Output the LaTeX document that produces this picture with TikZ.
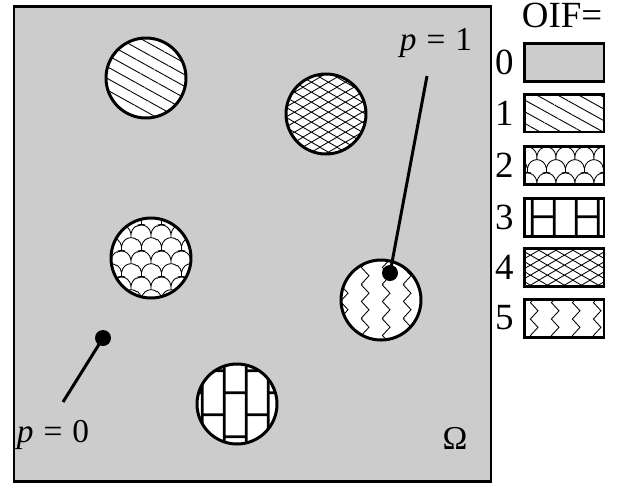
\documentclass[tikz,border=0pt]{standalone}
\usepackage{fontspec}
\setmainfont{Liberation Serif}
\usetikzlibrary{patterns,patterns.meta}

\definecolor{omega}{gray}{0.8}

% fish scales
\tikzdeclarepattern{
  name=scales, type=uncolored,
  bottom left={(0pt,0pt)}, top right={(11.05pt,14.82pt)},
  tile size={(11.05pt,14.82pt)},
  code={
    \begin{scope}[scale=1.3]
    \draw[line width=0.5pt] (-6.5pt,2pt) .. controls (-5.65pt,7.33pt) and (1.15pt,7.33pt) .. (2pt,2pt)
      .. controls (2.85pt,7.33pt) and (9.65pt,7.33pt) .. (10.5pt,2pt);
    \draw[line width=0.5pt] (2pt,2pt) -- (2pt,0.3pt);
    \draw[line width=0.5pt] (-2.25pt,7.7pt) .. controls (-1.4pt,13.03pt) and (5.4pt,13.03pt) .. (6.25pt,7.7pt)
      .. controls (7.1pt,13.03pt) and (13.9pt,13.03pt) .. (14.75pt,7.7pt);
    \draw[line width=0.5pt] (-2.25pt,-3.7pt) .. controls (-1.4pt,1.63pt) and (5.4pt,1.63pt) .. (6.25pt,-3.7pt);
    \draw[line width=0.5pt] (6.25pt,7.7pt) -- (6.25pt,6pt);
    \end{scope}
  }
}
% upright bricks
\tikzdeclarepattern{
  name=vbricks, type=uncolored,
  bottom left={(0pt,0pt)}, top right={(25pt,25pt)},
  tile size={(25pt,25pt)},
  code={
    \draw[line width=1.6pt] (3pt,-1pt) -- (3pt,26pt) (15.5pt,-1pt) -- (15.5pt,26pt);
    \draw[line width=1.6pt] (3pt,3pt) -- (15.5pt,3pt);
    \draw[line width=1.6pt] (-9.5pt,15.5pt) -- (3pt,15.5pt) (15.5pt,15.5pt) -- (28pt,15.5pt);
  }
}
% crossed lines
\tikzdeclarepattern{
  name=diamonds, type=uncolored,
  bottom left={(0pt,0pt)}, top right={(9.6pt,5.85pt)},
  tile size={(9.6pt,5.85pt)},
  code={
    \draw[line width=0.5pt] (-0.96pt,-0.585pt) -- (10.56pt,6.435pt) (-0.96pt,6.435pt) -- (10.56pt,-0.585pt);
  }
}
% zigzag
\tikzdeclarepattern{
  name=zigzag, type=uncolored,
  bottom left={(0pt,0pt)}, top right={(12pt,19pt)},
  tile size={(12pt,19pt)},
  code={
    \draw[line width=0.5pt] (6.5pt,-4.75pt) -- (2pt,0pt) -- (6.5pt,4.75pt) -- (2pt,9.5pt)
      -- (6.5pt,14.25pt) -- (2pt,19pt) -- (6.5pt,23.75pt);
  }
}

\tikzset{
  oif1/.style={pattern={Lines[angle=-29,distance=5.8pt,line width=0.5pt]}},
  oif2/.style={pattern=scales},
  oif3/.style={pattern=vbricks},
  oif4/.style={pattern=diamonds},
  oif5/.style={pattern=zigzag},
  blob/.style={circle,draw,line width=1.7pt,minimum size=1.6cm,inner sep=0pt,preaction={fill=white}},
  key/.style={rectangle,draw,line width=1.7pt,minimum width=1.6cm,minimum height=0.76cm,inner sep=0pt,preaction={fill=white}},
  dot/.style={circle,fill=black,minimum size=0.32cm,inner sep=0pt},
  conn/.style={line width=1.7pt},
  lbl/.style={font=\fontsize{19}{22}\selectfont,inner sep=0pt},
  num/.style={font=\fontsize{21}{24}\selectfont,inner sep=0pt}
}

\begin{document}
\begin{tikzpicture}[x=0.02cm,y=-0.02cm]
\useasboundingbox (0,0) rectangle (622,485);
% domain
\draw[line width=1.7pt,fill=omega] (14,6) rectangle (491,481);
\node[lbl] (om) at (455,438) {Ω};
% inclusions
\node[blob,oif1] (c1) at (146,78) {};
\node[blob,oif4] (c2) at (326,114) {};
\node[blob,oif2] (c3) at (151,258) {};
\node[blob,oif5] (c4) at (381,300) {};
\node[blob,oif3] (c5) at (237,404) {};
% points
\node[dot] (p1) at (390,273) {};
\coordinate (e1) at (427,76);
\draw[conn] (p1.center) -- (e1);
\node[lbl,anchor=base] (l1) at (436,50) {\textit{p}\hspace{0.3em}=\hspace{0.3em}1};
\node[dot] (p0) at (103,338) {};
\coordinate (e0) at (63,402);
\draw[conn] (p0.center) -- (e0);
\node[lbl,anchor=base] (l0) at (53,442) {\textit{p}\hspace{0.3em}=\hspace{0.3em}0};
% legend
\node[num,anchor=base] (oif) at (562,27) {OIF=};
\node[key,fill=omega] (k0) at (564,62.5) {};
\node[key,oif1] (k1) at (564,113) {};
\node[key,oif2] (k2) at (564,165) {};
\node[key,oif3] (k3) at (564,217) {};
\node[key,oif4] (k4) at (564,267) {};
\node[key,oif5] (k5) at (564,318) {};
\node[num,anchor=east] (n0) at (514,62.5) {0};
\node[num,anchor=east] (n1) at (514,113) {1};
\node[num,anchor=east] (n2) at (514,165) {2};
\node[num,anchor=east] (n3) at (514,217) {3};
\node[num,anchor=east] (n4) at (514,267) {4};
\node[num,anchor=east] (n5) at (514,318) {5};
\end{tikzpicture}
\end{document}
